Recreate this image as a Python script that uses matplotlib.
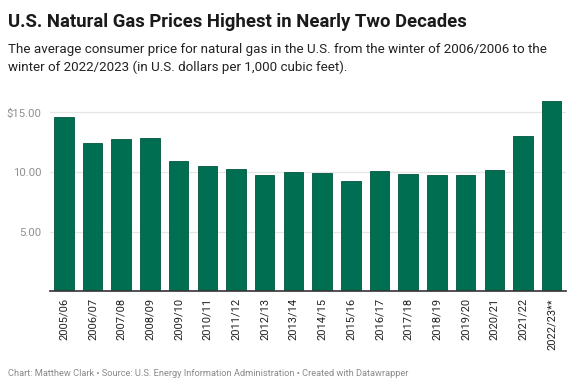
import matplotlib
matplotlib.use("Agg")
import matplotlib.pyplot as plt

plt.rcParams['font.family'] = ['Roboto', 'DejaVu Sans']

seasons = ['2005/06', '2006/07', '2007/08', '2008/09', '2009/10', '2010/11',
           '2011/12', '2012/13', '2013/14', '2014/15', '2015/16', '2016/17',
           '2017/18', '2018/19', '2019/20', '2020/21', '2021/22', '2022/23**']
prices = [14.58, 12.40, 12.74, 12.88, 10.90, 10.48, 10.25, 9.75, 9.97,
          9.89, 9.27, 10.11, 9.81, 9.72, 9.72, 10.17, 13.04, 15.98]
yticks = [5, 10, 15]
ytick_labels = ['5.00', '10.00', '$15.00']

fig = plt.figure(figsize=(5.75, 3.9), dpi=100)
ax = fig.add_axes([49.5/575, 1 - 291.3/390, (566 - 49.5)/575, (291.3 - 100)/390])

x = range(len(seasons))
ax.bar(x, prices, width=0.68, color='#006e51', edgecolor='#00553e', linewidth=0.6, zorder=3)

ax.set_xlim(-0.5, len(seasons) - 0.5)
ax.set_ylim(0, 16.04)
ax.set_yticks(yticks)
ax.set_yticklabels(ytick_labels, color='#909090', fontsize=8.2)
ax.set_xticks(list(x))
ax.set_xticklabels(seasons, rotation=90, fontsize=8, color='#222222')
ax.tick_params(axis='y', length=0, pad=6)
ax.tick_params(axis='x', length=0, pad=5)
ax.grid(axis='y', color='#e6e6e6', linewidth=0.9, zorder=0)
for s in ['top', 'right', 'left']:
    ax.spines[s].set_visible(False)
ax.spines['bottom'].set_color('#333333')
ax.spines['bottom'].set_linewidth(1.2)
ax.spines['bottom'].set_zorder(4)

fig.text(8/575, 1 - 22/390, 'U.S. Natural Gas Prices Highest in Nearly Two Decades',
         fontsize=13.3, fontweight='bold', color='#1a1a1a', va='center', ha='left')
fig.text(8/575, 1 - 43/390,
         'The average consumer price for natural gas in the U.S. from the winter of 2006/2006 to the\n'
         'winter of 2022/2023 (in U.S. dollars per 1,000 cubic feet).',
         fontsize=9.6, color='#222222', va='top', ha='left', linespacing=1.42)
fig.text(8/575, 1 - 374/390,
         'Chart: Matthew Clark \u2022 Source: U.S. Energy Information Administration \u2022 Created with Datawrapper',
         fontsize=6.7, color='#8a8a8a', va='center', ha='left')

fig.savefig('out.png', dpi=100)
